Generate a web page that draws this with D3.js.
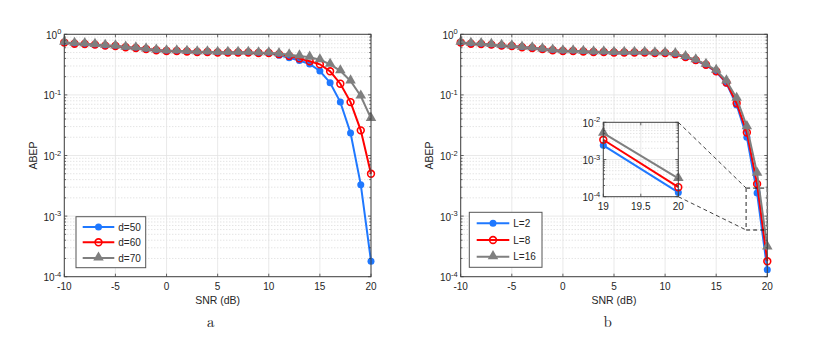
<!DOCTYPE html>
<html>
<head>
<meta charset="utf-8">
<script src="https://cdn.jsdelivr.net/npm/d3@7"></script>
<style>
body { margin: 0; background: #fff; }
text { font-family: "Liberation Sans", Arial, sans-serif; fill: #262626; }
</style>
</head>
<body>
<svg id="chart" width="818" height="345"></svg>
<script>
// SNR values (dB)
var snr = [-10, -9, -8, -7, -6, -5, -4, -3, -2, -1, 0, 1, 2, 3, 4, 5, 6, 7, 8, 9, 10,
           11, 12, 13, 14, 15, 16, 17, 18, 19, 20];
var xTicks = [-10, -5, 0, 5, 10, 15, 20];
var yTicks = [1e-4, 1e-3, 1e-2, 1e-1, 1];
var yExponents = [-4, -3, -2, -1, 0];

// panel a
var legendA = ["d=50", "d=60", "d=70"];
var d50 = [0.73, 0.70, 0.69, 0.675, 0.65, 0.64, 0.61, 0.595, 0.57, 0.545,
           0.53, 0.53, 0.52, 0.51, 0.51, 0.50, 0.50, 0.50, 0.50, 0.49, 0.49,
           0.45, 0.41, 0.37, 0.324, 0.248, 0.159, 0.076, 0.0235, 0.0033, 0.00018];
var d60 = [0.73, 0.70, 0.69, 0.675, 0.65, 0.64, 0.61, 0.595, 0.57, 0.545,
           0.53, 0.53, 0.52, 0.51, 0.51, 0.50, 0.50, 0.50, 0.50, 0.49, 0.49,
           0.47, 0.44, 0.40, 0.36, 0.32, 0.245, 0.153, 0.076, 0.026, 0.005];
var d70 = [0.74, 0.71, 0.70, 0.68, 0.66, 0.645, 0.615, 0.60, 0.575, 0.55,
           0.535, 0.535, 0.525, 0.515, 0.515, 0.505, 0.505, 0.505, 0.505, 0.495, 0.495,
           0.48, 0.46, 0.44, 0.42, 0.38, 0.32, 0.25, 0.17, 0.096, 0.041];

// panel b
var legendB = ["L=2", "L=8", "L=16"];
var L2 = [0.73, 0.70, 0.69, 0.675, 0.65, 0.64, 0.61, 0.595, 0.57, 0.545,
          0.53, 0.53, 0.52, 0.51, 0.51, 0.50, 0.50, 0.50, 0.50, 0.49, 0.49,
          0.47, 0.42, 0.37, 0.31, 0.24, 0.155, 0.068, 0.020, 0.0024, 0.00013];
var L8 = [0.73, 0.70, 0.69, 0.675, 0.65, 0.64, 0.61, 0.595, 0.57, 0.545,
          0.53, 0.53, 0.52, 0.51, 0.51, 0.50, 0.50, 0.50, 0.50, 0.49, 0.49,
          0.47, 0.42, 0.375, 0.315, 0.245, 0.16, 0.073, 0.024, 0.0034, 0.00018];
var L16 = [0.74, 0.71, 0.70, 0.68, 0.66, 0.645, 0.615, 0.60, 0.575, 0.55,
           0.535, 0.535, 0.525, 0.515, 0.515, 0.505, 0.505, 0.505, 0.505, 0.495, 0.495,
           0.48, 0.43, 0.38, 0.32, 0.255, 0.17, 0.088, 0.030, 0.0051, 0.00031];

// inset (zoom of panel b)
var insetX = [19, 20];
var insetXTicks = [19, 19.5, 20];
var insetYTicks = [1e-4, 1e-3, 1e-2];
var insetYExponents = [-4, -3, -2];
var zoomBoxX = [17.93, 20];
var zoomBoxY = [5.9e-4, 2.9e-3];

var colors = ["#1f78ff", "#ff0000", "#7f7f7f"];
var markers = ["dot", "ring", "tri"];

var svg = d3.select("#chart");

function minorValues(lo, hi) {
    var out = [];
    for (var k = Math.round(Math.log10(lo)); k < Math.round(Math.log10(hi)); k++) {
        for (var m = 2; m <= 9; m++) out.push(m * Math.pow(10, k));
    }
    return out;
}

function drawMarker(g, type, color, cx, cy) {
    if (type == "dot") {
        g.append("circle").attr("cx", cx).attr("cy", cy).attr("r", 3.5)
            .attr("fill", color);
    } else if (type == "ring") {
        g.append("circle").attr("cx", cx).attr("cy", cy).attr("r", 3.4)
            .attr("fill", "none").attr("stroke", color).attr("stroke-width", 1.6);
    } else {
        g.append("path").attr("d", d3.symbol().type(d3.symbolTriangle).size(48)())
            .attr("transform", `translate(${cx},${cy - 0.5})`)
            .attr("fill", color);
    }
}

function drawGrid(g, x, y, xMajor, yMajor, yLo, yHi) {
    var x0 = x.range()[0], x1 = x.range()[1];
    var y0 = y.range()[0], y1 = y.range()[1];
    g.append("g").selectAll("line").data(minorValues(yLo, yHi)).join("line")
        .attr("x1", x0).attr("x2", x1)
        .attr("y1", d => y(d)).attr("y2", d => y(d))
        .attr("stroke", "#c8c8c8").attr("stroke-width", 0.7)
        .attr("stroke-dasharray", "1,2");
    g.append("g").selectAll("line").data(xMajor).join("line")
        .attr("x1", d => x(d)).attr("x2", d => x(d))
        .attr("y1", y0).attr("y2", y1)
        .attr("stroke", "#e3e3e3").attr("stroke-width", 0.8);
    g.append("g").selectAll("line").data(yMajor).join("line")
        .attr("x1", x0).attr("x2", x1)
        .attr("y1", d => y(d)).attr("y2", d => y(d))
        .attr("stroke", "#e3e3e3").attr("stroke-width", 0.8);
}

function drawAxes(g, x, y, xMajor, xLabels, yMajor, yExp, yLo, yHi, fs) {
    var x0 = x.range()[0], x1 = x.range()[1];
    var y0 = y.range()[0], y1 = y.range()[1];
    var ax = g.append("g").attr("stroke", "#404040").attr("stroke-width", 0.8);
    // major ticks, inward
    xMajor.forEach(v => {
        ax.append("line").attr("x1", x(v)).attr("x2", x(v)).attr("y1", y0).attr("y2", y0 - 3);
        ax.append("line").attr("x1", x(v)).attr("x2", x(v)).attr("y1", y1).attr("y2", y1 + 3);
    });
    yMajor.forEach(v => {
        ax.append("line").attr("x1", x0).attr("x2", x0 + 3).attr("y1", y(v)).attr("y2", y(v));
        ax.append("line").attr("x1", x1).attr("x2", x1 - 3).attr("y1", y(v)).attr("y2", y(v));
    });
    minorValues(yLo, yHi).forEach(v => {
        ax.append("line").attr("x1", x0).attr("x2", x0 + 1.8).attr("y1", y(v)).attr("y2", y(v));
        ax.append("line").attr("x1", x1).attr("x2", x1 - 1.8).attr("y1", y(v)).attr("y2", y(v));
    });
    ax.append("rect").attr("x", x0).attr("y", y1)
        .attr("width", x1 - x0).attr("height", y0 - y1)
        .attr("fill", "none").attr("stroke-width", 1);

    g.append("g").selectAll("text").data(xMajor).join("text")
        .attr("x", d => x(d)).attr("y", y0 + 13)
        .attr("text-anchor", "middle").attr("font-size", fs)
        .text((d, i) => xLabels[i]);

    yMajor.forEach((v, i) => {
        var t = g.append("text").attr("x", x0 - 3).attr("y", y(v) + 4.5)
            .attr("text-anchor", "end").attr("font-size", fs);
        t.append("tspan").text("10");
        t.append("tspan").attr("dy", -4.5).attr("font-size", fs * 0.75).text(yExp[i]);
    });
}

function drawSeries(g, x, y, xs, data) {
    var line = d3.line().x((d, i) => x(xs[i])).y(d => y(d));
    data.forEach((vals, s) => {
        g.append("path").datum(vals).attr("d", line)
            .attr("fill", "none").attr("stroke", colors[s]).attr("stroke-width", 2);
        vals.forEach((v, i) => drawMarker(g, markers[s], colors[s], x(xs[i]), y(v)));
    });
}

function drawLegend(g, lx, ly, w, h, labels, rowY, lineX0, lineX1) {
    g.append("rect").attr("x", lx).attr("y", ly).attr("width", w).attr("height", h)
        .attr("fill", "#fff").attr("stroke", "#555").attr("stroke-width", 1);
    labels.forEach((lab, i) => {
        var cy = rowY[i];
        g.append("line").attr("x1", lineX0).attr("x2", lineX1).attr("y1", cy).attr("y2", cy)
            .attr("stroke", colors[i]).attr("stroke-width", 2);
        drawMarker(g, markers[i], colors[i], (lineX0 + lineX1) / 2, cy);
        g.append("text").attr("x", lineX1 + 4).attr("y", cy + 3.6)
            .attr("font-size", 10).text(lab);
    });
}

function drawPanel(cfg) {
    var g = svg.append("g");
    var x = d3.scaleLinear().domain([-10, 20]).range([cfg.left, cfg.right]);
    var y = d3.scaleLog().domain([1e-4, 1]).range([276.7, 34.3]);

    drawGrid(g, x, y, xTicks, yTicks, 1e-4, 1);
    drawSeries(g, x, y, snr, cfg.data);
    drawAxes(g, x, y, xTicks, xTicks, yTicks, yExponents, 1e-4, 1, 10);

    g.append("text").attr("transform", `translate(${cfg.left - 27.5},155.5) rotate(-90)`)
        .attr("text-anchor", "middle").attr("font-size", 10.5).text("ABEP");
    g.append("text").attr("x", (cfg.left + cfg.right) / 2).attr("y", 304)
        .attr("text-anchor", "middle").attr("font-size", 10.5).text("SNR (dB)");
    g.append("text").attr("x", cfg.captionX).attr("y", 327)
        .attr("text-anchor", "middle").attr("font-size", 15)
        .style("font-family", "'Latin Modern Roman','DejaVu Serif',serif")
        .text(cfg.caption);

    var lg = cfg.legend;
    drawLegend(g, lg.x, lg.y, lg.w, lg.h, cfg.labels, lg.rows, lg.l0, lg.l1);
    return { g: g, x: x, y: y };
}

drawPanel({
    left: 64.3, right: 371, captionX: 210.7, caption: "a",
    data: [d50, d60, d70], labels: legendA,
    legend: { x: 76, y: 216.7, w: 69.7, h: 51, rows: [227, 242.3, 258], l0: 82.7, l1: 114.3 }
});

var pb = drawPanel({
    left: 460.7, right: 767.3, captionX: 607.7, caption: "b",
    data: [L2, L8, L16], labels: legendB,
    legend: { x: 469.3, y: 212.3, w: 72.7, h: 55, rows: [223.3, 240, 256.7], l0: 476.7, l1: 509.3 }
});

// zoom box and inset for panel b
var zx0 = pb.x(zoomBoxX[0]), zx1 = pb.x(zoomBoxX[1]);
var zy0 = pb.y(zoomBoxY[1]), zy1 = pb.y(zoomBoxY[0]);
var ig = svg.append("g");
var ix = d3.scaleLinear().domain([19, 20]).range([603.3, 678.3]);
var iy = d3.scaleLog().domain([1e-4, 1e-2]).range([196.7, 122.3]);

ig.append("line").attr("x1", ix.range()[1]).attr("y1", iy.range()[1]).attr("x2", zx0).attr("y2", zy0)
    .attr("stroke", "#111").attr("stroke-width", 0.8).attr("stroke-dasharray", "4,3");
ig.append("line").attr("x1", ix.range()[1]).attr("y1", iy.range()[0]).attr("x2", zx0).attr("y2", zy1)
    .attr("stroke", "#111").attr("stroke-width", 0.8).attr("stroke-dasharray", "4,3");
ig.append("line").attr("x1", zx0).attr("x2", zx1).attr("y1", zy0).attr("y2", zy0)
    .attr("stroke", "#111").attr("stroke-width", 1).attr("stroke-dasharray", "4,3");
ig.append("line").attr("x1", zx0).attr("x2", zx1).attr("y1", zy1).attr("y2", zy1)
    .attr("stroke", "#111").attr("stroke-width", 1).attr("stroke-dasharray", "4,3");
ig.append("line").attr("x1", zx0).attr("x2", zx0).attr("y1", zy0).attr("y2", zy1)
    .attr("stroke", "#777").attr("stroke-width", 1.6).attr("stroke-dasharray", "4,3");
ig.append("line").attr("x1", zx1).attr("x2", zx1).attr("y1", zy0).attr("y2", zy1)
    .attr("stroke", "#777").attr("stroke-width", 1.6).attr("stroke-dasharray", "4,3");

ig.append("rect").attr("x", ix.range()[0]).attr("y", iy.range()[1])
    .attr("width", ix.range()[1] - ix.range()[0]).attr("height", iy.range()[0] - iy.range()[1])
    .attr("fill", "#fff");
drawGrid(ig, ix, iy, [19.5], [1e-3], 1e-4, 1e-2);
drawSeries(ig, ix, iy, insetX, [L2.slice(29), L8.slice(29), L16.slice(29)]);
drawAxes(ig, ix, iy, insetXTicks, insetXTicks, insetYTicks, insetYExponents, 1e-4, 1e-2, 10);
</script>
</body>
</html>
